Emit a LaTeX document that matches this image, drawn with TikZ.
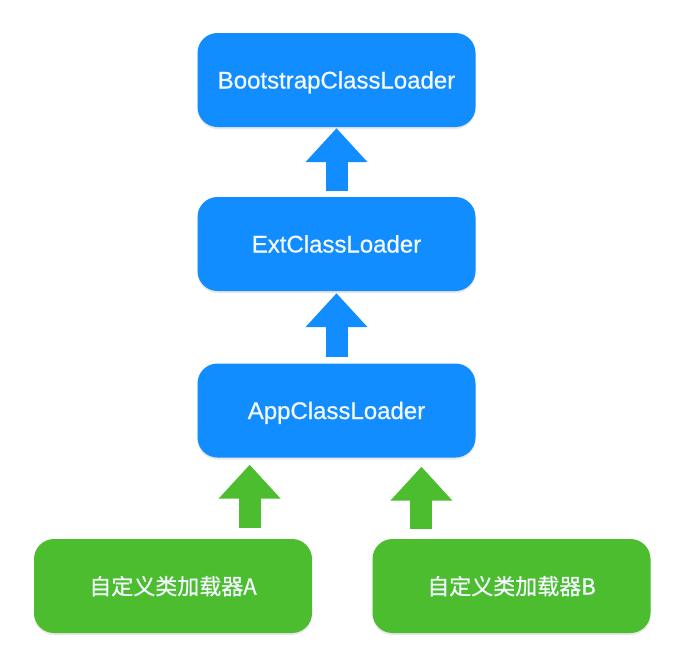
\documentclass[tikz,border=0pt]{standalone}
\usepackage{fontspec}
\setmainfont[FakeBold=0.7]{Liberation Sans}
\newfontfamily\cjk[FakeBold=0.7]{Noto Sans CJK SC}
\usetikzlibrary{arrows.meta,calc,shadows}
\definecolor{boxblue}{RGB}{17,141,255}
\definecolor{boxgreen}{RGB}{76,189,46}
\definecolor{txt}{RGB}{244,248,255}
\tikzset{
  loader/.style={rounded corners=20pt, minimum width=278pt, minimum height=94pt,
    inner sep=0pt, text=txt, font=\fontsize{24}{28}\selectfont,
    text height=17pt, text depth=0pt,
    drop shadow={opacity=0.18, shadow xshift=0pt, shadow yshift=-2pt}},
  bluebox/.style={loader, fill=boxblue},
  greenbox/.style={loader, fill=boxgreen, font=\cjk\fontsize{22}{26}\selectfont},
  blockarrow/.style={line width=22pt, -{Triangle[width=60pt,length=34pt]}},
  bluearrow/.style={blockarrow, draw=boxblue},
  greenarrow/.style={blockarrow, draw=boxgreen}
}
\begin{document}
\begin{tikzpicture}[x=1pt,y=-1pt]
\useasboundingbox[fill=white] (0,0) rectangle (682,659);
\node[bluebox] (boot) at (336.5,80) {BootstrapClassLoader};
\node[bluebox] (ext) at (336.5,244) {ExtClassLoader};
\node[bluebox] (app) at (336.5,410.5) {AppClassLoader};
\node[greenbox] (ca) at (173,586) {自定义类加载器A};
\node[greenbox] (cb) at (511.5,586) {自定义类加载器B};
\draw[bluearrow, shorten <=6pt, shorten >=1pt] (ext.north) -- (boot.south);
\draw[bluearrow, shorten <=6pt, shorten >=2pt] (app.north) -- (ext.south);
\coordinate (ta) at ($(app.south west)!0.188!(app.south east)$);
\coordinate (tb) at ($(app.south west)!0.805!(app.south east)$);
\draw[greenarrow, shorten <=11pt, shorten >=7pt] (ta |- ca.north) -- (ta);
\draw[greenarrow, shorten <=10pt, shorten >=9pt] (tb |- cb.north) -- (tb);
\end{tikzpicture}
\end{document}
